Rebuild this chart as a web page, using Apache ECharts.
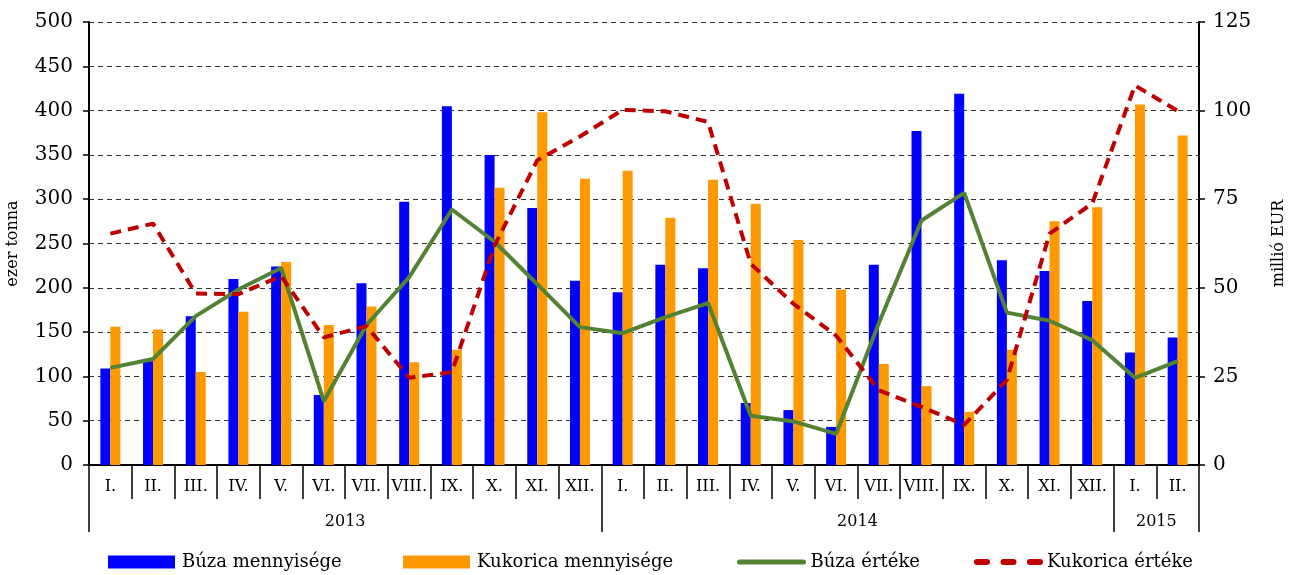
<!DOCTYPE html>
<html>
<head>
<meta charset="utf-8">
<script src="https://cdn.jsdelivr.net/npm/echarts@6/dist/echarts.min.js"></script>
<style>
  html, body { margin: 0; padding: 0; background: #fff; }
  #chart { width: 1300px; height: 575px; }
</style>
</head>
<body>
<div id="chart"></div>
<script>
// havi címkék (2013 I. - 2015 II.)
var monthLabels = ['I.', 'II.', 'III.', 'IV.', 'V.', 'VI.', 'VII.', 'VIII.', 'IX.', 'X.', 'XI.', 'XII.',
                   'I.', 'II.', 'III.', 'IV.', 'V.', 'VI.', 'VII.', 'VIII.', 'IX.', 'X.', 'XI.', 'XII.',
                   'I.', 'II.'];
var years = ['2013', '2014', '2015'];
var yearMonths = [12, 12, 2];

// ezer tonna
var buzaMenny = [109, 117, 168, 210, 224, 79, 205, 297, 405, 350, 290, 208,
                 195, 226, 222, 70, 62, 43, 226, 377, 419, 231, 219, 185,
                 127, 144];
var kukoricaMenny = [156, 153, 105, 173, 229, 158, 179, 116, 130, 313, 398, 323,
                     332, 279, 322, 295, 254, 198, 114, 89, 60, 130, 275, 291,
                     407, 372];
// millió EUR
var buzaErtek = [27.4, 29.9, 42, 49.5, 55.6, 18, 39.5, 53, 72.1, 63, 51, 38.9,
                 37.2, 41.7, 45.7, 13.9, 12.3, 8.8, 40, 69, 76.8, 43, 40.7, 35.2,
                 24.6, 29.3];
var kukoricaErtek = [65.3, 68.1, 48.4, 48.2, 53.3, 36, 39.2, 24.6, 26.2, 61.9, 86, 92.7,
                     100.2, 99.8, 96.8, 56.8, 45.5, 36.5, 21.1, 16.4, 11.3, 24, 65.3, 73.8,
                     107.1, 99.9];

// év határok és év címke pozíciók
var yearBounds = [0];
var yearCenters = [];
yearMonths.forEach(function (n) {
    var start = yearBounds[yearBounds.length - 1];
    yearCenters.push(start + n / 2);
    yearBounds.push(start + n);
});

var font = 'DejaVu Serif';

var myChart = echarts.init(document.getElementById('chart'));

function legendItem(name, left, extra) {
    var l = {
        left: left, top: 548,
        itemWidth: 67, itemHeight: 13,
        textStyle: { fontFamily: font, fontSize: 18, color: '#000', padding: [0, 0, 0, 2] },
        data: [name]
    };
    return Object.assign(l, extra || {});
}

myChart.setOption({
    animation: false,
    grid: { left: 89, right: 101, top: 22, bottom: 110, containLabel: false, outerBoundsMode: 'none' },
    legend: [
        legendItem('Búza mennyisége', 103, { icon: 'rect' }),
        legendItem('Kukorica mennyisége', 398, { icon: 'rect' }),
        legendItem('Búza értéke', 732, { itemWidth: 64, itemStyle: { opacity: 0 }, lineStyle: { width: 5, cap: 'round' } }),
        legendItem('Kukorica értéke', 969, { itemWidth: 63, itemStyle: { opacity: 0 }, lineStyle: { width: 6, type: [10, 16.5], cap: 'round' } })
    ],
    xAxis: [{
        type: 'category',
        data: monthLabels,
        boundaryGap: true,
        axisLine: { lineStyle: { color: '#000', width: 2 } },
        axisTick: { show: true, interval: 0, length: 34, lineStyle: { color: '#000', width: 1.5 } },
        axisLabel: { interval: 0, margin: 14, fontSize: 16, fontFamily: font, color: '#000' }
    }, {
        type: 'value',
        position: 'bottom',
        min: 0,
        max: monthLabels.length,
        axisLine: { show: false },
        splitLine: { show: false },
        axisTick: {
            show: true,
            length: 67,
            customValues: yearBounds,
            lineStyle: { color: '#000', width: 1.5 }
        },
        axisLabel: {
            margin: 49,
            fontSize: 16, fontFamily: font, color: '#000',
            customValues: yearCenters,
            formatter: function (v) {
                return years[yearCenters.indexOf(v)] || '';
            }
        }
    }],
    yAxis: [{
        type: 'value',
        min: 0, max: 500, interval: 50,
        name: 'ezer tonna',
        nameLocation: 'middle',
        nameGap: 68,
        nameTextStyle: { fontFamily: font, fontSize: 16, color: '#000' },
        axisLine: { show: true, lineStyle: { color: '#000', width: 2 } },
        axisTick: { show: true, length: 6, lineStyle: { color: '#000', width: 1.5 } },
        axisLabel: { fontSize: 20, fontFamily: font, color: '#000', margin: 16 },
        splitLine: { lineStyle: { color: '#333', type: [5, 4], width: 1 } }
    }, {
        type: 'value',
        min: 0, max: 125, interval: 25,
        name: 'millió EUR',
        nameLocation: 'middle',
        nameGap: 72,
        nameRotate: 90,
        nameTextStyle: { fontFamily: font, fontSize: 16, color: '#000' },
        axisLine: { show: true, lineStyle: { color: '#000', width: 2 } },
        axisTick: { show: true, length: 6, lineStyle: { color: '#000', width: 1.5 } },
        axisLabel: { fontSize: 20, fontFamily: font, color: '#000', margin: 14 },
        splitLine: { show: false }
    }],
    series: [{
        name: 'Búza mennyisége',
        type: 'bar',
        data: buzaMenny,
        barWidth: 10,
        barGap: '0%',
        itemStyle: { color: '#0000ff' }
    }, {
        name: 'Kukorica mennyisége',
        type: 'bar',
        data: kukoricaMenny,
        barWidth: 10,
        barGap: '0%',
        itemStyle: { color: '#ff9900' }
    }, {
        name: 'Búza értéke',
        type: 'line',
        yAxisIndex: 1,
        data: buzaErtek,
        symbol: 'none',
        lineStyle: { color: '#548235', width: 4 },
        itemStyle: { color: '#548235' }
    }, {
        name: 'Kukorica értéke',
        type: 'line',
        yAxisIndex: 1,
        data: kukoricaErtek,
        symbol: 'none',
        lineStyle: { color: '#c00000', width: 4, type: [11, 7] },
        itemStyle: { color: '#c00000' }
    }]
});
window.addEventListener('resize', myChart.resize);
</script>
</body>
</html>
